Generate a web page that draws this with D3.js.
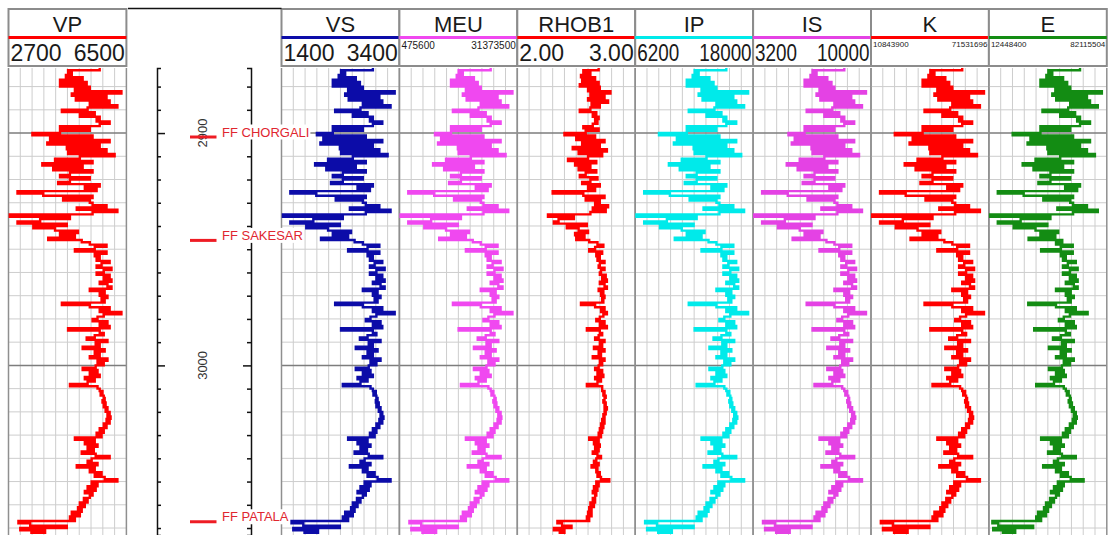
<!DOCTYPE html>
<html>
<head>
<meta charset="utf-8">
<script src="https://cdn.jsdelivr.net/npm/d3@7"></script>
<style>
  html, body { margin: 0; padding: 0; background: #fff; }
  svg { display: block; font-family: Arial, "Liberation Sans", sans-serif; }
</style>
</head>
<body>
<svg id="chart" width="1108" height="535"></svg>
<script>
// sample depths (m), one per metre
const depths = [2872,2873,2874,2875,2876,2877,2878,2879,2880,2881,
  2882,2883,2884,2885,2886,2887,2888,2889,2890,2891,
  2892,2893,2894,2895,2896,2897,2898,2899,2900,2901,
  2902,2903,2904,2905,2906,2907,2908,2909,2910,2911,
  2912,2913,2914,2915,2916,2917,2918,2919,2920,2921,
  2922,2923,2924,2925,2926,2927,2928,2929,2930,2931,
  2932,2933,2934,2935,2936,2937,2938,2939,2940,2941,
  2942,2943,2944,2945,2946,2947,2948,2949,2950,2951,
  2952,2953,2954,2955,2956,2957,2958,2959,2960,2961,
  2962,2963,2964,2965,2966,2967,2968,2969,2970,2971,
  2972,2973,2974,2975,2976,2977,2978,2979,2980,2981,
  2982,2983,2984,2985,2986,2987,2988,2989,2990,2991,
  2992,2993,2994,2995,2996,2997,2998,2999,3000,3001,
  3002,3003,3004,3005,3006,3007,3008,3009,3010,3011,
  3012,3013,3014,3015,3016,3017,3018,3019,3020,3021,
  3022,3023,3024,3025,3026,3027,3028,3029,3030,3031,
  3032,3033,3034,3035,3036,3037,3038,3039,3040,3041,
  3042,3043,3044,3045,3046,3047,3048,3049,3050,3051,
  3052,3053,3054,3055,3056,3057,3058,3059,3060,3061,
  3062,3063,3064,3065,3066,3067,3068,3069,3070,3071,
  3072]

const vp = [5640,4620,4740,4550,5090,4360,5220,4360,5320,4840,
  6340,4740,5860,4870,5960,5320,6210,5250,4420,5480,
  5000,5640,5540,5960,5640,4360,5320,4360,3470,5410,
  4040,5960,3950,5640,4580,5860,4620,6120,5000,4200,
  5410,3790,5090,4140,5410,4680,4360,5320,4680,4300,
  5640,5160,5540,2990,3820,5410,4460,5320,5410,5860,
  4900,6210,5410,2730,4680,3720,2990,4580,3500,4200,
  4940,4360,4840,3980,5060,5320,5860,5480,4840,5860,
  5480,5640,5540,5960,5700,5540,6020,5770,5540,5960,
  5770,6020,5640,5890,6020,5320,5800,5640,5890,5700,
  5800,4420,5320,5960,5640,6340,5770,5570,5410,5890,
  5640,5960,4620,5640,5770,5480,5220,5890,5510,5640,
  5090,5800,5480,5640,5320,5890,5570,5770,5510,5090,
  5570,5320,5640,5160,5480,5250,4680,5570,5640,5730,
  5670,5770,5800,5730,5830,5770,5890,5830,5960,5890,
  5990,5860,5960,5770,5860,5640,5770,5540,5700,4840,
  5480,5160,5570,5250,5450,5060,5510,5960,5380,5250,
  5570,4900,5480,5320,5700,5480,5800,6210,5380,5570,
  5250,5510,5160,5410,5320,5130,5250,5000,5160,4940,
  5060,4740,5000,4680,4840,3020,3400,4580,3080,3880,
  3400]

const vs = [2950,2410,2480,2370,2660,2270,2730,2270,2780,2530,
  3320,2480,3060,2540,3110,2780,3250,2740,2310,2860,
  2610,2950,2900,3110,2950,2270,2780,2270,2000,2830,
  2110,3110,2060,2950,2390,3060,2410,3200,2610,2190,
  2830,1970,2660,2160,2830,2440,2270,2780,2440,2240,
  2950,2690,2900,1550,1990,2830,2320,2780,2830,3060,
  2560,3250,2830,1420,2440,1940,1550,2390,1820,2190,
  2580,2270,2530,2070,2640,2780,3060,2860,2530,3060,
  2860,2950,2900,3110,2980,2900,3150,3010,2900,3110,
  3010,3150,2950,3080,3150,2780,3030,2950,3080,2980,
  3030,2310,2780,3110,2950,3320,3010,2910,2830,3080,
  2950,3110,2410,2950,3010,2860,2730,3080,2880,2950,
  2660,3030,2860,2950,2780,3080,2910,3010,2880,2660,
  2910,2780,2950,2690,2860,2740,2440,2910,2950,3000,
  2960,3010,3030,3000,3050,3010,3080,3050,3110,3080,
  3130,3060,3110,3010,3060,2950,3010,2900,2980,2530,
  2860,2690,2910,2740,2850,2640,2880,3110,2810,2740,
  2910,2560,2860,2780,2980,2860,3030,3250,2810,2910,
  2740,2880,2690,2830,2780,2680,2740,2610,2690,2580,
  2640,2480,2610,2440,2530,1570,1770,2390,1600,2020,
  1770]

// shear modulus, millions
const meuM = [24.4,16.0,17.1,15.5,20.0,14.0,21.0,14.0,21.8,17.9,
  30.1,17.1,26.2,18.1,27.0,21.8,29.0,21.2,14.5,23.1,
  19.2,24.4,23.6,27.0,24.4,14.0,21.8,14.0,9.8,22.5,
  11.4,27.0,10.6,24.4,15.8,26.2,16.0,28.3,19.2,12.7,
  22.5,9.3,20.0,12.2,22.5,16.6,14.0,21.8,16.6,13.5,
  24.4,20.5,23.6,2.8,9.6,22.5,14.8,21.8,22.5,26.2,
  18.4,29.0,22.5,0.7,16.6,8.8,2.8,15.8,7.0,12.7,
  18.7,14.0,17.9,10.9,19.7,21.8,26.2,23.1,17.9,26.2,
  23.1,24.4,23.6,27.0,24.9,23.6,27.5,25.4,23.6,27.0,
  25.4,27.5,24.4,26.4,27.5,21.8,25.7,24.4,26.4,24.9,
  25.7,14.5,21.8,27.0,24.4,30.1,25.4,23.8,22.5,26.4,
  24.4,27.0,16.0,24.4,25.4,23.1,21.0,26.4,23.3,24.4,
  20.0,25.7,23.1,24.4,21.8,26.4,23.8,25.4,23.3,20.0,
  23.8,21.8,24.4,20.5,23.1,21.2,16.6,23.8,24.4,25.1,
  24.6,25.4,25.7,25.1,25.9,25.4,26.4,25.9,27.0,26.4,
  27.2,26.2,27.0,25.4,26.2,24.4,25.4,23.6,24.9,17.9,
  23.1,20.5,23.8,21.2,22.8,19.7,23.3,27.0,22.3,21.2,
  23.8,18.4,23.1,21.8,24.9,23.1,25.7,29.0,22.3,23.8,
  21.2,23.3,20.5,22.5,21.8,20.2,21.2,19.2,20.5,18.7,
  19.7,17.1,19.2,16.6,17.9,3.1,6.2,15.8,3.6,10.1,
  6.2]

const rhob = [2.69,2.56,2.62,2.54,2.66,2.55,2.69,2.53,2.70,2.60,
  2.79,2.62,2.74,2.60,2.77,2.63,2.70,2.62,2.53,2.67,
  2.64,2.69,2.66,2.68,2.64,2.56,2.69,2.58,2.40,2.66,
  2.50,2.74,2.55,2.70,2.47,2.76,2.52,2.72,2.60,2.43,
  2.67,2.49,2.62,2.52,2.67,2.58,2.53,2.68,2.62,2.55,
  2.70,2.60,2.66,2.30,2.56,2.74,2.58,2.70,2.66,2.77,
  2.64,2.75,2.62,2.26,2.48,2.35,2.31,2.59,2.42,2.52,
  2.60,2.49,2.57,2.50,2.61,2.68,2.73,2.66,2.61,2.72,
  2.67,2.70,2.68,2.74,2.70,2.69,2.74,2.71,2.70,2.75,
  2.72,2.76,2.70,2.74,2.76,2.69,2.73,2.71,2.74,2.72,
  2.73,2.54,2.66,2.74,2.71,2.76,2.73,2.70,2.67,2.74,
  2.70,2.76,2.59,2.70,2.72,2.69,2.66,2.74,2.70,2.72,
  2.65,2.74,2.69,2.71,2.64,2.74,2.70,2.72,2.69,2.66,
  2.72,2.68,2.73,2.66,2.71,2.68,2.59,2.72,2.72,2.74,
  2.73,2.75,2.74,2.73,2.75,2.74,2.76,2.74,2.75,2.73,
  2.74,2.72,2.74,2.71,2.73,2.70,2.72,2.69,2.71,2.61,
  2.69,2.65,2.70,2.66,2.69,2.64,2.68,2.71,2.67,2.65,
  2.69,2.63,2.68,2.67,2.70,2.68,2.71,2.78,2.67,2.69,
  2.65,2.68,2.64,2.67,2.66,2.64,2.66,2.62,2.65,2.61,
  2.63,2.60,2.63,2.59,2.61,2.34,2.38,2.46,2.31,2.40,
  2.35]

const ip = [15320,12150,12550,11950,13630,11360,14040,11360,14330,12840,
  17500,12550,16020,12940,16310,14330,17100,14130,11560,14830,
  13340,15320,15030,16310,15320,11360,14330,11360,8580,14630,
  10370,16310,10070,15320,12050,16020,12150,16810,13340,10860,
  14630,9570,13630,10660,14630,12350,11360,14330,12350,11160,
  15320,13830,15030,7100,9670,14630,11650,14330,14630,16020,
  13040,17100,14630,6290,12350,9370,7100,12050,8680,10860,
  13140,11360,12840,10160,13540,14330,16020,14830,12840,16020,
  14830,15320,15030,16310,15520,15030,16510,15720,15030,16310,
  15720,16510,15320,16110,16510,14330,15820,15320,16110,15520,
  15820,11560,14330,16310,15320,17500,15720,15120,14630,16110,
  15320,16310,12150,15320,15720,14830,14040,16110,14920,15320,
  13630,15820,14830,15320,14330,16110,15120,15720,14920,13630,
  15120,14330,15320,13830,14830,14130,12350,15120,15320,15620,
  15430,15720,15820,15620,15920,15720,16110,15920,16310,16110,
  16420,16020,16310,15720,16020,15320,15720,15030,15520,12840,
  14830,13830,15120,14130,14730,13540,14920,16310,14530,14130,
  15120,13040,14830,14330,15520,14830,15820,17100,14530,15120,
  14130,14920,13830,14630,14330,13740,14130,13340,13830,13140,
  13540,12550,13340,12350,12840,7190,8380,12050,7390,9870,
  8380]

const is = [8460,6630,6860,6510,7480,6170,7720,6170,7890,7030,
  9710,6860,8860,7080,9030,7890,9480,7770,6290,8170,
  7310,8460,8290,9030,8460,6170,7890,6170,5240,8060,
  5600,9030,5430,8460,6570,8860,6630,9310,7310,5890,
  8060,5140,7480,5770,8060,6740,6170,7890,6740,6060,
  8460,7600,8290,3720,5200,8060,6340,7890,8060,8860,
  7140,9480,8060,3250,6740,5030,3720,6570,4630,5890,
  7200,6170,7030,5480,7430,7890,8860,8170,7030,8860,
  8170,8460,8290,9030,8570,8290,9140,8690,8290,9030,
  8690,9140,8460,8910,9140,7890,8740,8460,8910,8570,
  8740,6290,7890,9030,8460,9710,8690,8340,8060,8910,
  8460,9030,6630,8460,8690,8170,7720,8910,8230,8460,
  7480,8740,8170,8460,7890,8910,8340,8690,8230,7480,
  8340,7890,8460,7600,8170,7770,6740,8340,8460,8630,
  8520,8690,8740,8630,8800,8690,8910,8800,9030,8910,
  9090,8860,9030,8690,8860,8460,8690,8290,8570,7030,
  8170,7600,8340,7770,8120,7430,8230,9030,8000,7770,
  8340,7140,8170,7890,8570,8170,8740,9480,8000,8340,
  7770,8230,7600,8060,7890,7550,7770,7310,7600,7200,
  7430,6860,7310,6740,7030,3770,4460,6570,3890,5310,
  4460]

// bulk modulus, millions
const kM = [57.8,41.4,43.5,40.4,49.1,37.4,51.1,37.4,52.7,45.0,
  69.0,43.5,61.3,45.5,62.9,52.7,66.9,51.6,38.4,55.2,
  47.6,57.8,56.2,62.9,57.8,37.4,52.7,37.4,23.1,54.2,
  32.3,62.9,30.7,57.8,40.9,61.3,41.4,65.4,47.6,34.8,
  54.2,28.2,49.1,33.8,54.2,42.5,37.4,52.7,42.5,36.3,
  57.8,50.1,56.2,15.5,28.7,54.2,38.9,52.7,54.2,61.3,
  46.0,66.9,54.2,11.3,42.5,27.2,15.5,40.9,23.6,34.8,
  46.5,37.4,45.0,31.2,48.6,52.7,61.3,55.2,45.0,61.3,
  55.2,57.8,56.2,62.9,58.8,56.2,63.9,59.8,56.2,62.9,
  59.8,63.9,57.8,61.8,63.9,52.7,60.3,57.8,61.8,58.8,
  60.3,38.4,52.7,62.9,57.8,69.0,59.8,56.7,54.2,61.8,
  57.8,62.9,41.4,57.8,59.8,55.2,51.1,61.8,55.7,57.8,
  49.1,60.3,55.2,57.8,52.7,61.8,56.7,59.8,55.7,49.1,
  56.7,52.7,57.8,50.1,55.2,51.6,42.5,56.7,57.8,59.3,
  58.3,59.8,60.3,59.3,60.8,59.8,61.8,60.8,62.9,61.8,
  63.4,61.3,62.9,59.8,61.3,57.8,59.8,56.2,58.8,45.0,
  55.2,50.1,56.7,51.6,54.7,48.6,55.7,62.9,53.7,51.6,
  56.7,46.0,55.2,52.7,58.8,55.2,60.3,66.9,53.7,56.7,
  51.6,55.7,50.1,54.2,52.7,49.6,51.6,47.6,50.1,46.5,
  48.6,43.5,47.6,42.5,45.0,15.9,22.1,40.9,17.0,29.7,
  22.1]

// Young's modulus, millions
const eM = [66.3,47.6,49.9,46.4,56.3,42.9,58.7,42.9,60.5,51.7,
  79.2,49.9,70.4,52.2,72.2,60.5,76.8,59.3,44.1,63.4,
  54.6,66.3,64.6,72.2,66.3,42.9,60.5,42.9,26.5,62.2,
  37.0,72.2,35.3,66.3,47.0,70.4,47.6,75.1,54.6,40.0,
  62.2,32.4,56.3,38.8,62.2,48.8,42.9,60.5,48.8,41.7,
  66.3,57.5,64.6,17.7,33.0,62.2,44.6,60.5,62.2,70.4,
  52.9,76.8,62.2,13.0,48.8,31.2,17.7,47.0,27.1,40.0,
  53.4,42.9,51.7,35.9,55.8,52.1,62.0,55.0,43.3,62.0,
  55.0,57.9,56.2,63.8,59.1,56.2,64.9,60.3,56.2,63.8,
  60.3,64.9,57.9,62.6,64.9,52.1,60.8,57.9,62.6,59.1,
  60.8,35.7,52.1,63.8,57.9,70.8,60.3,56.7,53.8,62.6,
  57.9,63.8,39.2,57.9,60.3,55.0,50.3,62.6,55.6,57.9,
  47.9,60.8,55.0,57.9,52.1,62.6,56.7,60.3,55.6,47.9,
  56.7,52.1,57.9,49.1,55.0,50.9,40.4,56.7,57.9,59.6,
  58.5,60.3,60.8,59.6,61.5,60.3,62.6,61.5,63.8,62.6,
  64.4,62.0,63.8,60.3,62.0,57.9,60.3,56.2,59.1,43.3,
  55.0,49.1,56.7,50.9,54.4,47.4,55.6,63.8,53.2,50.9,
  56.7,44.5,55.0,52.1,59.1,55.0,60.8,68.4,53.2,56.7,
  50.9,55.6,49.1,53.8,52.1,48.6,50.9,46.2,49.1,45.0,
  47.4,41.5,46.2,40.4,43.3,14.5,18.0,38.6,15.0,28.0,
  20.0]

const trackNames = ['VP', 'VS', 'MEU', 'RHOB1', 'IP', 'IS', 'K', 'E']
const trackMin = [2700, 1400, 475600, 2.00, 6200, 3200, 10843900, 12448400]
const trackMax = [6500, 3400, 31373500, 3.00, 18000, 10000, 71531696, 82115504]
const minLabels = ['2700', '1400', '475600', '2.00', '6200', '3200', '10843900', '12448400']
const maxLabels = ['6500', '3400', '31373500', '3.00', '18000', '10000', '71531696', '82115504']

const topNames = ['FF CHORGALI', 'FF SAKESAR', 'FF PATALA']
const topDepths = [2901.7, 2946.2, 3067.3]
const depthLabels = [2900, 3000]

// styling per track
const trackColors = ['#ff0000', '#0c0ca8', '#f048f0', '#ff0000', '#00eaea', '#e442e4', '#ff0000', '#138c13']
const labelSizes = [23, 23, 10, 23, 23, 23, 8, 8]
const labelSqueeze = [1, 1, 1, 1, 0.82, 0.82, 1, 1]

const millions = arr => arr.map(v => v * 1e6)
const series = [vp, vs, millions(meuM), rhob, ip, is, millions(kM), millions(eM)]

const svg = d3.select('#chart')
const gridTop = 68, gridBottom = 535
const trackW = 117.9
const trackX = [8.5, 281.5, 399.4, 517.3, 635.2, 753.1, 871.0, 988.9]

const y = d3.scaleLinear().domain([2872, 3073]).range([gridTop, gridBottom])
const minorDepths = d3.range(2880, 3073, 10)

svg.append('defs').append('clipPath').attr('id', 'trackclip')
    .append('rect')
    .attr('x', 0).attr('y', gridTop).attr('width', trackW).attr('height', gridBottom - gridTop)

trackNames.forEach((name, i) => {
    const g = svg.append('g').attr('transform', `translate(${trackX[i]},0)`)
    const x = d3.scaleLinear().domain([trackMin[i], trackMax[i]]).range([0, trackW])

    // grid
    const grid = g.append('g')
    grid.selectAll('line.v')
        .data(d3.range(1, 10))
        .join('line')
        .attr('x1', d => d * trackW / 10).attr('x2', d => d * trackW / 10)
        .attr('y1', gridTop).attr('y2', gridBottom)
        .attr('stroke', '#cdcdcd').attr('stroke-width', 1)
    grid.selectAll('line.h')
        .data(minorDepths)
        .join('line')
        .attr('x1', 0).attr('x2', trackW)
        .attr('y1', d => y(d)).attr('y2', d => y(d))
        .attr('stroke', d => d % 100 === 0 ? '#7d7d7d' : '#cdcdcd')
        .attr('stroke-width', d => d % 100 === 0 ? 1.5 : 1)
    grid.selectAll('line.b')
        .data([0, trackW])
        .join('line')
        .attr('x1', d => d).attr('x2', d => d)
        .attr('y1', gridTop).attr('y2', gridBottom)
        .attr('stroke', '#8f8f8f').attr('stroke-width', 1.5)

    // curve, held constant over each 1 m sample
    const pts = depths.map((d, k) => ({ d: d, v: series[i][k] }))
    const line = d3.line()
        .x(p => x(p.v))
        .y(p => y(p.d))
        .curve(d3.curveStepBefore)
    g.append('path')
        .datum(pts)
        .attr('d', line)
        .attr('clip-path', 'url(#trackclip)')
        .attr('fill', 'none')
        .attr('stroke', trackColors[i])
        .attr('stroke-width', 2.4)

    // header box
    g.append('rect')
        .attr('x', 0).attr('y', 9).attr('width', trackW).attr('height', 57)
        .attr('fill', '#fff').attr('stroke', '#8c8c8c').attr('stroke-width', 2)
    g.append('text')
        .attr('x', trackW / 2).attr('y', 31.5)
        .attr('text-anchor', 'middle')
        .style('font-size', '22px').style('fill', '#1a1a1a')
        .text(name)
    g.append('line')
        .attr('x1', 0).attr('x2', trackW).attr('y1', 37.5).attr('y2', 37.5)
        .attr('stroke', trackColors[i]).attr('stroke-width', 3)

    const big = labelSizes[i] > 12
    const ly = big ? 60.5 : (labelSizes[i] === 10 ? 49 : 46.5)
    const sq = labelSqueeze[i]
    g.append('text')
        .attr('transform', `translate(2,${ly}) scale(${sq},1)`)
        .style('font-size', labelSizes[i] + 'px').style('fill', '#1a1a1a')
        .text(minLabels[i])
    g.append('text')
        .attr('transform', `translate(${trackW - 1.5},${ly}) scale(${sq},1)`)
        .attr('text-anchor', 'end')
        .style('font-size', labelSizes[i] + 'px').style('fill', '#1a1a1a')
        .text(maxLabels[i])
})

// depth track
const dg = svg.append('g')
dg.append('line')
    .attr('x1', 128).attr('x2', 281.5).attr('y1', 8.5).attr('y2', 8.5)
    .attr('stroke', '#111').attr('stroke-width', 1.5)

const leftAxis = d3.axisRight(y).tickValues(minorDepths).tickSize(4).tickSizeOuter(4).tickFormat('')
const rightAxis = d3.axisLeft(y).tickValues(minorDepths).tickSize(4).tickSizeOuter(4).tickFormat('')
const la = dg.append('g').attr('transform', 'translate(157,0)').call(leftAxis)
const ra = dg.append('g').attr('transform', 'translate(251,0)').call(rightAxis)
;[la, ra].forEach((ax, j) => {
    ax.select('.domain').attr('stroke', '#111').attr('stroke-width', 1.5)
    ax.selectAll('.tick line')
        .attr('stroke', '#111').attr('stroke-width', 1.5)
        .attr('x2', d => (d % 100 === 0 ? 8 : 4) * (j === 0 ? 1 : -1))
})

dg.selectAll('text.depth')
    .data(depthLabels)
    .join('text')
    .attr('transform', d => `translate(207,${y(d)}) rotate(-90)`)
    .attr('text-anchor', 'middle')
    .style('font-size', '13px').style('fill', '#333')
    .text(d => d)

// formation tops
const tg = svg.append('g')
topNames.forEach((name, i) => {
    const ty = y(topDepths[i])
    tg.append('line')
        .attr('x1', 190).attr('x2', 216.5).attr('y1', ty).attr('y2', ty)
        .attr('stroke', '#ee1c24').attr('stroke-width', 3)
    const t = tg.append('text')
        .attr('x', 222).attr('y', ty - 0.5)
        .style('font-size', '13px').style('fill', '#e0262f')
        .text(name)
    const bb = t.node().getBBox()
    tg.insert('rect', () => t.node())
        .attr('x', bb.x - 1).attr('y', bb.y).attr('width', bb.width + 2).attr('height', bb.height)
        .attr('fill', '#fff')
})
</script>
</body>
</html>
